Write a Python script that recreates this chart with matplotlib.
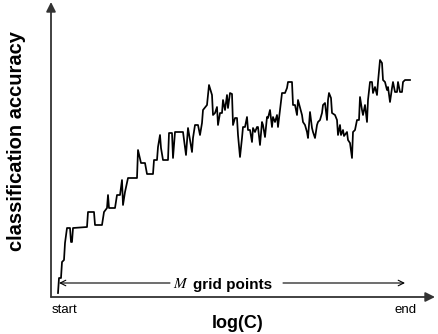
import matplotlib
matplotlib.use('Agg')
import matplotlib.pyplot as plt

plt.rcParams['font.family'] = ['Liberation Sans', 'DejaVu Sans']
plt.rcParams['mathtext.fontset'] = 'stix'

# grid position (left to right) and classification accuracy (arbitrary units)
grid = [7, 8, 10, 11, 13, 14, 16, 19, 20, 21, 22, 36, 37, 43, 44, 51, 53, 56, 57, 58,
        64, 66, 69, 71, 72, 74, 77, 86, 87, 90, 94, 96, 102, 103, 106, 107, 109, 110, 112, 117,
        118, 121, 122, 124, 132, 135, 137, 141, 142, 144, 147, 149, 151, 152, 156, 158, 161, 162, 164, 166,
        167, 169, 171, 172, 174, 176, 177, 179, 181, 182, 184, 186, 187, 189, 191, 192, 194, 196, 197, 199,
        201, 202, 204, 206, 207, 209, 211, 212, 214, 216, 217, 219, 221, 222, 224, 226, 227, 229, 231, 234,
        236, 237, 241, 242, 244, 246, 247, 251, 252, 254, 256, 257, 259, 261, 262, 264, 266, 267, 269, 271,
        272, 274, 276, 277, 278, 280, 281, 284, 286, 287, 289, 290, 292, 293, 296, 297, 299, 301, 302, 304,
        306, 308, 309, 311, 312, 314, 316, 317, 319, 321, 322, 324, 326, 327, 329, 331, 332, 334, 336, 337,
        339, 341, 342, 344, 346, 347, 349, 351, 352, 354, 359]
acc = [4, 19, 19, 35, 37, 54, 69, 69, 55, 55, 69, 70, 85, 85, 72, 72, 85, 89, 102, 89,
       89, 102, 102, 117, 92, 105, 119, 119, 147, 134, 134, 123, 123, 137, 137, 150, 162, 149, 137, 137,
       164, 164, 139, 165, 165, 142, 169, 145, 159, 172, 172, 162, 174, 187, 192, 212, 202, 182, 184, 190,
       172, 184, 184, 197, 187, 202, 189, 204, 203, 172, 179, 179, 162, 140, 159, 170, 170, 180, 167, 167,
       155, 169, 165, 170, 170, 152, 175, 172, 160, 180, 179, 187, 170, 180, 175, 182, 170, 187, 204, 204,
       209, 215, 215, 192, 192, 182, 197, 182, 175, 172, 165, 159, 185, 169, 165, 159, 172, 175, 177, 184,
       192, 194, 177, 197, 204, 199, 184, 182, 177, 162, 172, 162, 167, 161, 165, 157, 154, 139, 165, 167,
       177, 177, 200, 187, 182, 192, 175, 197, 215, 215, 204, 210, 202, 215, 237, 234, 217, 215, 207, 210,
       195, 209, 215, 205, 205, 215, 205, 205, 215, 217, 217]

fig = plt.figure(figsize=(4.39, 3.34), dpi=100)
ax = fig.add_axes([51 / 439, 37 / 334, 384 / 439, 295 / 334])
ax.set_xlim(0, 384)
ax.set_ylim(0, 295)
ax.axis('off')

ax.plot(grid, acc, color='black', lw=1.25)

# axes with arrow heads
axis_col = '#333333'
ax.annotate('', xy=(0, 1), xytext=(0, 0), xycoords='axes fraction',
            arrowprops=dict(arrowstyle='-|>', lw=1.3, color=axis_col, mutation_scale=14,
                            shrinkA=0, shrinkB=0))
ax.annotate('', xy=(1, 0), xytext=(0, 0), xycoords='axes fraction',
            arrowprops=dict(arrowstyle='-|>', lw=1.3, color=axis_col, mutation_scale=14,
                            shrinkA=0, shrinkB=0))

# M grid points
ax.annotate('', xy=(8, 14), xytext=(119, 14),
            arrowprops=dict(arrowstyle='->', lw=0.8, color='black', shrinkA=0, shrinkB=0))
ax.annotate('', xy=(354, 14), xytext=(232, 14),
            arrowprops=dict(arrowstyle='->', lw=0.8, color='black', shrinkA=0, shrinkB=0))
ax.text(130, 13, r'$M$', fontsize=11, ha='center', va='center')
ax.text(182, 12, 'grid points', fontsize=11, fontweight='bold', ha='center', va='center')

ax.text(13.5, -13, 'start', fontsize=9.5, ha='center', va='center', clip_on=False)
ax.text(354.5, -13, 'end', fontsize=9.5, ha='center', va='center', clip_on=False)
ax.text(187, -26, 'log(C)', fontsize=13, fontweight='bold', ha='center', va='center', clip_on=False)
ax.text(-34, 156, 'classification accuracy', fontsize=14.5, fontweight='bold', rotation=90,
        ha='center', va='center', clip_on=False)

fig.savefig('out.png', dpi=100)
